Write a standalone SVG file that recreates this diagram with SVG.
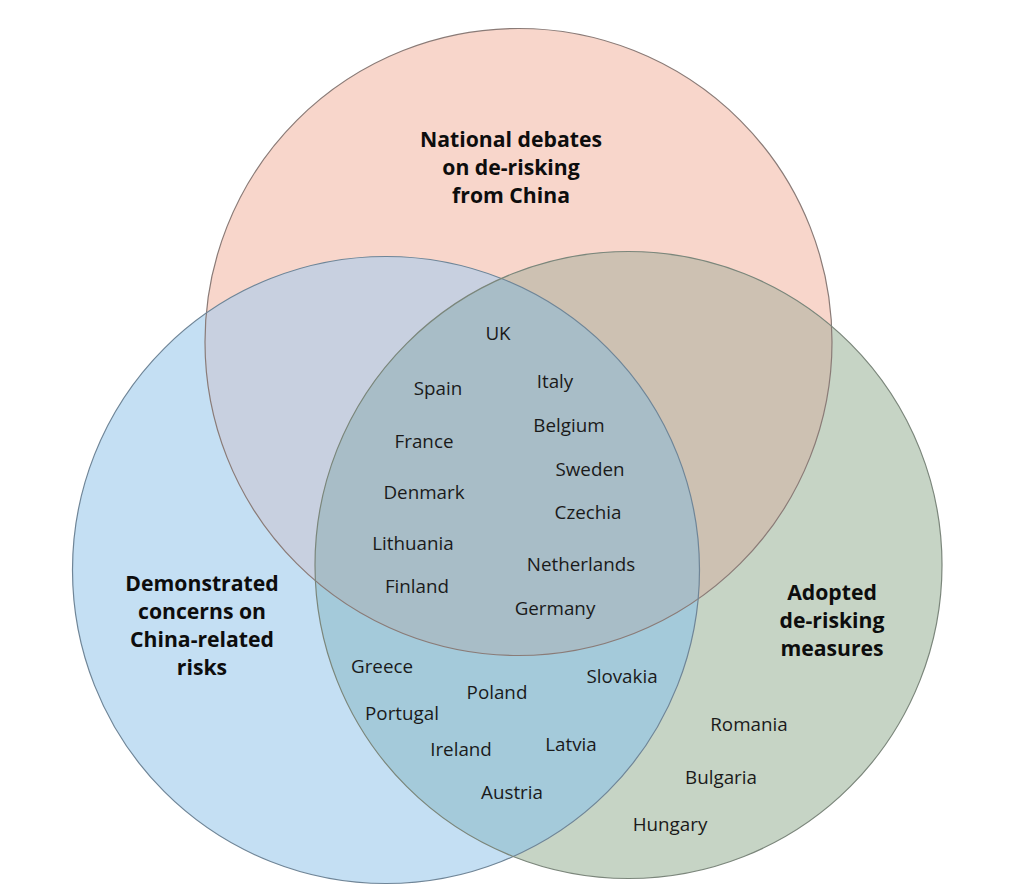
<svg xmlns="http://www.w3.org/2000/svg" width="1022" height="892" viewBox="0 0 1022 892">
<style>
.title{font-family:"Open Sans","Liberation Sans",sans-serif;font-weight:700;font-size:21.2px;fill:#0d0d0d;text-anchor:middle}
.c{font-family:"Open Sans","Liberation Sans",sans-serif;font-size:18.8px;fill:#1a1a1a;text-anchor:middle}
.edge{fill:none;stroke-width:1.2}
</style>
<defs>
<circle id="cA" cx="518.5" cy="342" r="313.5"/>
<circle id="cB" cx="386" cy="570" r="313.5"/>
<circle id="cC" cx="628.5" cy="565" r="313.5"/>
<clipPath id="clipA"><use href="#cA"/></clipPath>
<clipPath id="clipB"><use href="#cB"/></clipPath>
<clipPath id="clipC"><use href="#cC"/></clipPath>
</defs>
<rect width="1022" height="892" fill="#ffffff"/>
<g id="fills">
<use href="#cA" fill="#F8D6CB"/>
<use href="#cB" fill="#C4DFF3"/>
<use href="#cC" fill="#C6D4C5"/>
<use href="#cB" fill="#C8D0E0" clip-path="url(#clipA)"/>
<use href="#cC" fill="#CDC1B2" clip-path="url(#clipA)"/>
<use href="#cC" fill="#A4CADA" clip-path="url(#clipB)"/>
<g clip-path="url(#clipB)"><use href="#cC" fill="#A8BDC7" clip-path="url(#clipA)"/></g>
</g>
<g id="node-debates">
<use href="#cA" class="edge" stroke="#8a7b77"/>
<text class="title" x="511" y="147">National debates</text>
<text class="title" x="511" y="175">on de-risking</text>
<text class="title" x="511" y="203">from China</text>
</g>
<g id="node-concerns">
<use href="#cB" class="edge" stroke="#6f8597"/>
<text class="title" x="202" y="591">Demonstrated</text>
<text class="title" x="202" y="619">concerns on</text>
<text class="title" x="202" y="647">China-related</text>
<text class="title" x="202" y="675">risks</text>
</g>
<g id="node-measures">
<use href="#cC" class="edge" stroke="#7b867b"/>
<text class="title" x="832" y="600">Adopted</text>
<text class="title" x="832" y="628">de-risking</text>
<text class="title" x="832" y="656">measures</text>
</g>
<g id="connectors"/>
<g id="countries">
<text class="c" x="498" y="340">UK</text>
<text class="c" x="438" y="395">Spain</text>
<text class="c" x="555" y="388">Italy</text>
<text class="c" x="424" y="448">France</text>
<text class="c" x="569" y="432">Belgium</text>
<text class="c" x="590" y="476">Sweden</text>
<text class="c" x="424" y="499">Denmark</text>
<text class="c" x="588" y="519">Czechia</text>
<text class="c" x="413" y="550">Lithuania</text>
<text class="c" x="581" y="571">Netherlands</text>
<text class="c" x="417" y="593">Finland</text>
<text class="c" x="555" y="615">Germany</text>
<text class="c" x="382" y="673">Greece</text>
<text class="c" x="497" y="699">Poland</text>
<text class="c" x="622" y="683">Slovakia</text>
<text class="c" x="402" y="720">Portugal</text>
<text class="c" x="571" y="751">Latvia</text>
<text class="c" x="461" y="756">Ireland</text>
<text class="c" x="512" y="799">Austria</text>
<text class="c" x="749" y="731">Romania</text>
<text class="c" x="721" y="784">Bulgaria</text>
<text class="c" x="670" y="831">Hungary</text>
</g>
</svg>
